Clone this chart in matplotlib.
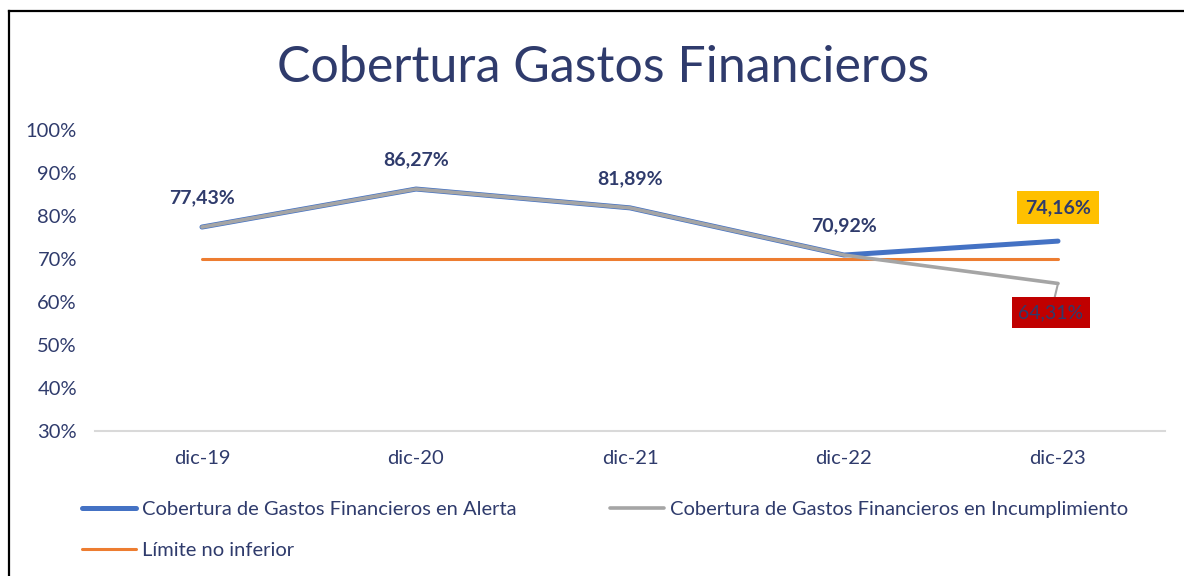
import matplotlib
matplotlib.use("Agg")
import matplotlib.pyplot as plt
from matplotlib.lines import Line2D
from matplotlib.ticker import PercentFormatter

periods = ["dic-19", "dic-20", "dic-21", "dic-22", "dic-23"]
alerta = [77.43, 86.27, 81.89, 70.92, 74.16]
incumplimiento = [77.43, 86.27, 81.89, 70.92, 64.31]
limite = [70, 70, 70, 70, 70]
yticks = [30, 40, 50, 60, 70, 80, 90, 100]

NAVY = "#2F3B6C"
BLUE = "#4472C4"
GREY = "#A5A5A5"
ORANGE = "#ED7D31"

plt.rcParams["font.family"] = ["Lato", "DejaVu Sans"]

fig = plt.figure(figsize=(11.84, 5.76), dpi=100)
ax = fig.add_axes([95 / 1184, 145 / 576, 1070 / 1184, 301 / 576])

x = list(range(len(periods)))
l1, = ax.plot(x, alerta, color=BLUE, lw=3.6, solid_capstyle="round", solid_joinstyle="round", zorder=3)
l2, = ax.plot(x, incumplimiento, color=GREY, lw=2.6, solid_capstyle="round", solid_joinstyle="round", zorder=4)
l3, = ax.plot(x, limite, color=ORANGE, lw=2.2, solid_capstyle="round", zorder=2)

# labels above the shared points
for i in range(4):
    ax.annotate(f"{alerta[i]:.2f}%".replace(".", ","), (x[i], alerta[i]), xytext=(0, 21),
                textcoords="offset points", ha="center", va="center",
                fontsize=14, fontweight="bold", color=NAVY, zorder=6)

ax.annotate(f"{alerta[4]:.2f}%".replace(".", ","), (x[4], alerta[4]), xytext=(0, 24),
            textcoords="offset points", ha="center", va="center",
            fontsize=14, fontweight="bold", color=NAVY, zorder=6,
            bbox=dict(boxstyle="square,pad=0.42", fc="#FFC000", ec="none"))
ax.annotate(f"{incumplimiento[4]:.2f}%".replace(".", ","), (x[4], incumplimiento[4]), xytext=(-5, -21),
            textcoords="offset points", ha="center", va="center",
            fontsize=14, color=NAVY, zorder=6,
            bbox=dict(boxstyle="square,pad=0.35", fc="#C00000", ec="none"),
            arrowprops=dict(arrowstyle="-", color=GREY, lw=1.5, shrinkA=0, shrinkB=0))

ax.set_xlim(-0.5, 4.5)
ax.set_ylim(30, 100)
ax.set_xticks(x)
ax.set_xticklabels(periods)
ax.set_yticks(yticks)
ax.yaxis.set_major_formatter(PercentFormatter(decimals=0))
ax.tick_params(axis="both", length=0, labelsize=14.5, labelcolor=NAVY)
ax.tick_params(axis="x", pad=14)
ax.tick_params(axis="y", pad=13)
for s in ["top", "right", "left"]:
    ax.spines[s].set_visible(False)
ax.spines["bottom"].set_color("#D9D9D9")
ax.spines["bottom"].set_linewidth(1.5)

fig.text(0.509, 1 - 68 / 576, "Cobertura Gastos Financieros", ha="center", va="center",
         fontsize=36, color=NAVY)

leg = fig.legend([l1, l3, l2],
                 ["Cobertura de Gastos Financieros en Alerta", "Límite no inferior",
                  "Cobertura de Gastos Financieros en Incumplimiento"],
                 ncol=2, loc="upper left", bbox_to_anchor=(82 / 1184, 1 - 501 / 576),
                 frameon=False, fontsize=14.5, handlelength=2.7, handletextpad=0.3,
                 columnspacing=4.6, labelspacing=1.2, borderpad=0, borderaxespad=0)
for t in leg.get_texts():
    t.set_color(NAVY)

# outer frame of the pasted chart
fig.add_artist(Line2D([9 / 1184, 9 / 1184], [0, 1 - 11 / 576], color="black", lw=1.6))
fig.add_artist(Line2D([9 / 1184, 1], [1 - 11 / 576, 1 - 11 / 576], color="black", lw=1.6))

fig.savefig("out.png", dpi=100)
